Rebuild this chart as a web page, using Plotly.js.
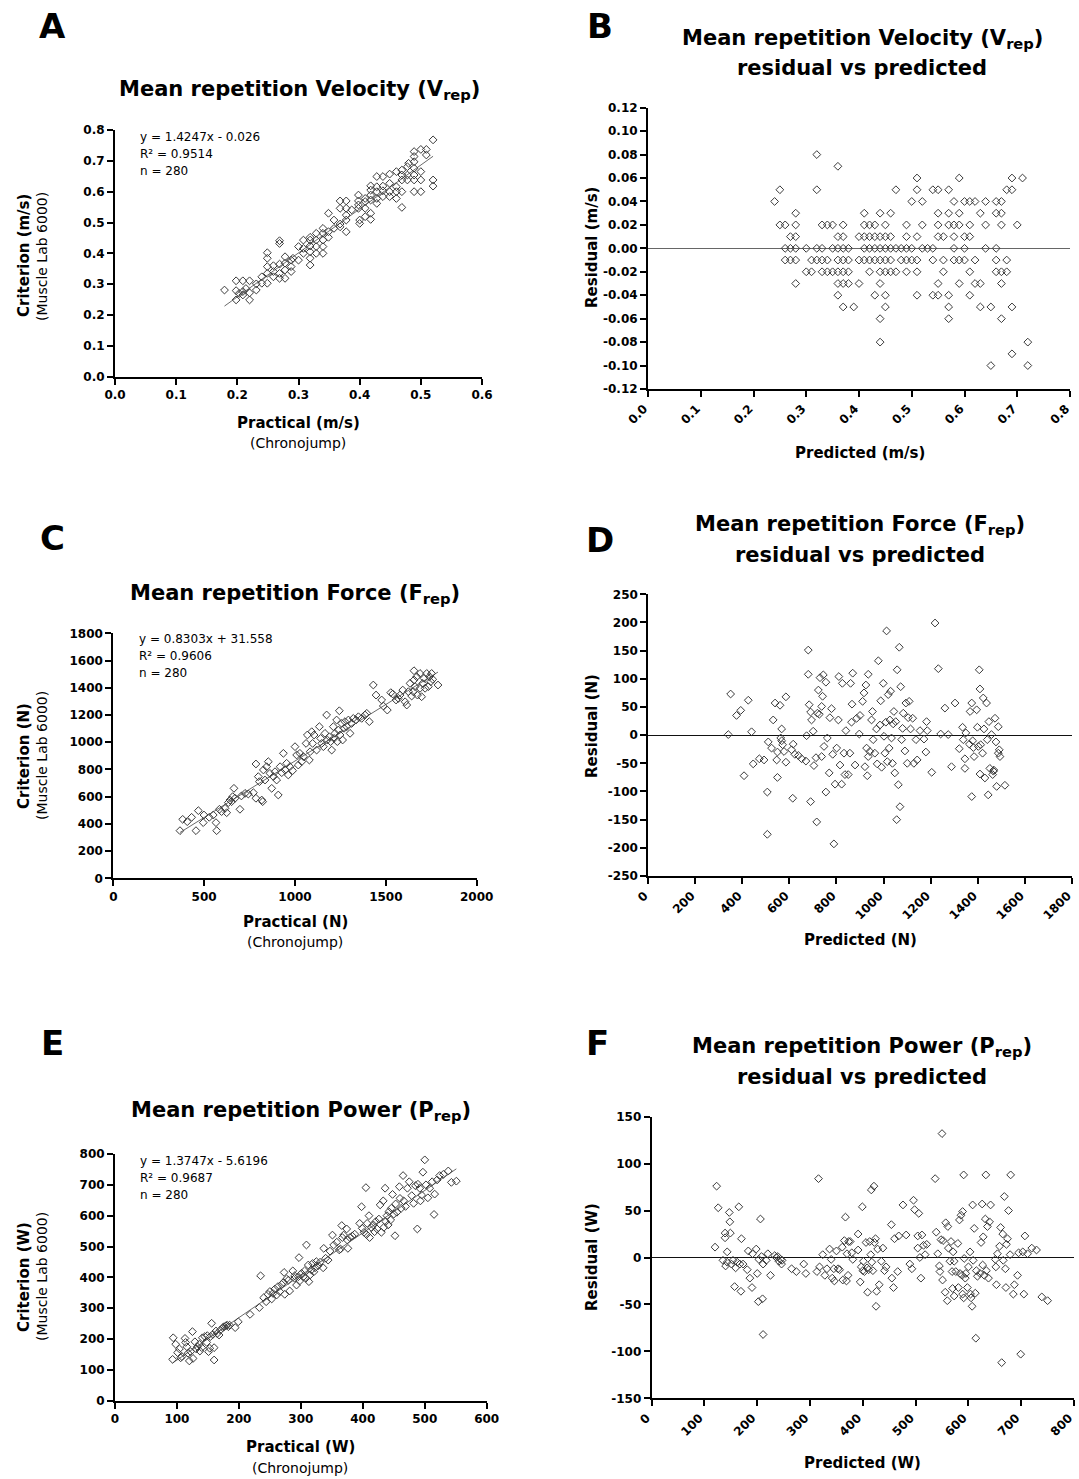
<!DOCTYPE html>
<html>
<head>
<meta charset="utf-8">
<script src="https://cdn.plot.ly/plotly-3.0.1.min.js"></script>
<style>html,body{margin:0;padding:0;background:#fff;}#chart{width:1079px;height:1479px;}</style>
</head>
<body>
<div id="chart"></div>
<script>
// ---------- DATA ----------
// Panel A: practical vs criterion velocity (m/s)
const velocityPairs = [[0.179,0.281],[0.198,0.311],[0.209,0.311],[0.220,0.311],[0.198,0.279],[0.198,0.249],[0.203,0.270],[0.209,0.276],[0.214,0.286],[0.220,0.272],[0.220,0.249],[0.209,0.265],[0.231,0.281],[0.231,0.301],[0.240,0.303],[0.240,0.324],[0.249,0.303],[0.249,0.335],[0.249,0.357],[0.249,0.384],[0.249,0.402],[0.259,0.324],[0.259,0.341],[0.259,0.360],[0.269,0.319],[0.269,0.335],[0.269,0.365],[0.269,0.432],[0.269,0.441],[0.278,0.319],[0.278,0.346],[0.278,0.368],[0.278,0.389],[0.288,0.341],[0.288,0.357],[0.288,0.378],[0.291,0.384],[0.300,0.378],[0.300,0.422],[0.308,0.400],[0.308,0.416],[0.308,0.443],[0.319,0.362],[0.319,0.384],[0.319,0.405],[0.319,0.424],[0.319,0.443],[0.319,0.452],[0.329,0.400],[0.329,0.422],[0.329,0.443],[0.329,0.465],[0.340,0.400],[0.340,0.422],[0.340,0.443],[0.340,0.465],[0.340,0.481],[0.349,0.452],[0.349,0.470],[0.349,0.530],[0.358,0.481],[0.358,0.508],[0.368,0.486],[0.368,0.495],[0.368,0.546],[0.368,0.570],[0.378,0.470],[0.378,0.508],[0.378,0.524],[0.378,0.546],[0.378,0.570],[0.387,0.541],[0.398,0.546],[0.398,0.557],[0.398,0.570],[0.398,0.589],[0.400,0.508],[0.400,0.497],[0.409,0.519],[0.409,0.546],[0.409,0.568],[0.409,0.578],[0.418,0.510],[0.418,0.530],[0.418,0.573],[0.418,0.589],[0.418,0.605],[0.418,0.619],[0.428,0.562],[0.428,0.578],[0.428,0.600],[0.428,0.616],[0.428,0.649],[0.438,0.584],[0.438,0.603],[0.438,0.618],[0.438,0.649],[0.449,0.584],[0.449,0.600],[0.449,0.627],[0.449,0.657],[0.460,0.578],[0.460,0.600],[0.460,0.616],[0.460,0.665],[0.469,0.549],[0.469,0.600],[0.469,0.638],[0.469,0.654],[0.469,0.670],[0.478,0.638],[0.478,0.654],[0.478,0.681],[0.480,0.692],[0.489,0.600],[0.489,0.638],[0.489,0.654],[0.489,0.676],[0.489,0.697],[0.489,0.714],[0.489,0.730],[0.500,0.600],[0.500,0.638],[0.500,0.665],[0.500,0.737],[0.509,0.737],[0.509,0.719],[0.520,0.768],[0.520,0.638],[0.520,0.618]];
const velocityFit = [1.4247, -0.026];

// Panel B: residual levels (m/s) and the predicted values found on each level
const velResidLevels = [0.08,0.07,0.06,0.05,0.04,0.03,0.02,0.01,0.00,-0.01,-0.02,-0.03,-0.04,-0.05,-0.06,-0.08,-0.09,-0.10];
const velPredByLevel = [
  [0.32],
  [0.36],
  [0.51,0.59,0.69,0.71],
  [0.25,0.32,0.47,0.51,0.54,0.55,0.57,0.68,0.69],
  [0.24,0.50,0.52,0.58,0.60,0.61,0.62,0.64,0.66,0.67],
  [0.28,0.41,0.44,0.46,0.55,0.57,0.59,0.63,0.66,0.67],
  [0.25,0.26,0.28,0.33,0.34,0.35,0.37,0.41,0.42,0.43,0.45,0.49,0.52,0.55,0.57,0.58,0.59,0.61,0.64,0.67,0.70],
  [0.27,0.28,0.36,0.37,0.40,0.41,0.42,0.43,0.44,0.45,0.46,0.49,0.51,0.55,0.56,0.58,0.60,0.61],
  [0.26,0.27,0.28,0.30,0.32,0.33,0.35,0.36,0.37,0.38,0.41,0.42,0.43,0.44,0.45,0.46,0.47,0.48,0.49,0.50,0.52,0.53,0.54,0.58,0.60,0.64,0.66],
  [0.26,0.27,0.28,0.31,0.32,0.33,0.34,0.36,0.37,0.38,0.40,0.41,0.42,0.43,0.44,0.45,0.46,0.48,0.49,0.50,0.51,0.54,0.56,0.58,0.59,0.60,0.62,0.66,0.68],
  [0.30,0.31,0.33,0.34,0.35,0.36,0.37,0.38,0.42,0.44,0.45,0.46,0.47,0.49,0.51,0.56,0.61,0.66,0.67,0.68],
  [0.28,0.36,0.37,0.38,0.40,0.44,0.55,0.59,0.62,0.63,0.67],
  [0.36,0.43,0.45,0.51,0.54,0.55,0.57,0.61],
  [0.37,0.39,0.45,0.57,0.63,0.65,0.69],
  [0.44,0.57,0.67],
  [0.44,0.72],
  [0.69],
  [0.65,0.72]
];

// Panel C: practical vs criterion force (N)
const forcePairs = [[367,350],[382,433],[407,416],[431,448],[455,350],[468,497],[495,409],[499,465],[528,448],[550,465],[565,409],[569,350],[584,507],[596,490],[615,514],[624,482],[633,556],[642,575],[651,563],[657,600],[664,661],[670,588],[697,507],[705,605],[725,624],[743,619],[771,629],[785,588],[785,840],[798,747],[804,710],[817,575],[822,563],[826,796],[835,722],[844,820],[853,857],[862,771],[872,661],[881,747],[890,783],[899,722],[908,612],[918,820],[927,776],[936,918],[945,796],[954,845],[963,759],[972,820],[987,791],[1000,967],[1009,906],[1018,832],[1027,918],[1037,857],[1046,894],[1061,991],[1068,1053],[1079,869],[1083,930],[1092,1077],[1097,991],[1105,1053],[1119,942],[1134,1114],[1141,1028],[1147,991],[1156,967],[1165,1065],[1174,1200],[1178,1016],[1189,1040],[1196,1004],[1202,942],[1211,1114],[1215,1028],[1220,1065],[1229,1163],[1233,1004],[1239,1089],[1244,1231],[1248,1053],[1257,1138],[1262,1016],[1270,1102],[1275,1151],[1285,1114],[1294,1163],[1303,1065],[1312,1138],[1321,1175],[1336,1163],[1349,1187],[1367,1175],[1385,1200],[1395,1212],[1409,1151],[1431,1420],[1446,1346],[1477,1310],[1486,1266],[1508,1236],[1527,1364],[1538,1354],[1556,1310],[1569,1322],[1578,1346],[1593,1383],[1606,1297],[1615,1273],[1624,1371],[1633,1432],[1642,1339],[1651,1371],[1655,1457],[1655,1525],[1661,1408],[1670,1481],[1674,1346],[1688,1505],[1688,1396],[1697,1334],[1703,1432],[1710,1469],[1716,1396],[1725,1505],[1734,1408],[1740,1481],[1747,1444],[1752,1505],[1758,1462],[1787,1420]];
const forceFit = [0.8303, 31.558];

// Panel D: predicted force (N) vs residual (N)
const forceResidPairs = [[340,1],[350,73],[375,35],[393,44],[407,-72],[425,62],[439,6],[446,-51],[472,-42],[492,-44],[506,-176],[506,-101],[510,-12],[524,-23],[531,27],[539,57],[546,-44],[549,-75],[549,-30],[560,53],[563,-5],[567,11],[567,-10],[571,-17],[577,-29],[585,-48],[585,68],[609,-26],[614,-112],[616,-16],[623,-34],[638,-36],[652,-42],[670,-46],[673,-1],[680,151],[680,108],[684,54],[690,41],[690,-118],[694,27],[701,7],[704,-54],[713,-40],[716,-154],[719,39],[723,80],[727,37],[730,102],[737,51],[737,-38],[741,69],[744,107],[747,-20],[755,94],[755,-101],[761,-5],[769,-67],[772,31],[779,47],[784,-34],[789,-193],[794,-87],[801,-23],[808,27],[810,104],[815,-53],[822,-87],[825,92],[832,-32],[836,-70],[840,8],[850,-70],[857,-32],[860,92],[864,23],[866,55],[869,110],[879,-53],[886,30],[897,2],[900,35],[911,60],[917,75],[921,-56],[925,89],[928,-23],[931,-72],[935,-38],[935,108],[942,-29],[949,27],[953,42],[956,-8],[963,-32],[970,11],[973,-51],[978,132],[985,18],[988,61],[992,-57],[999,92],[1002,-2],[1006,-32],[1010,23],[1013,185],[1016,-47],[1020,72],[1024,-23],[1027,27],[1030,78],[1034,-5],[1038,-50],[1041,20],[1044,42],[1048,-67],[1052,24],[1056,-150],[1058,116],[1063,-88],[1067,156],[1070,-127],[1073,86],[1077,-8],[1081,12],[1084,39],[1091,-28],[1095,57],[1101,-50],[1105,31],[1109,60],[1115,11],[1124,30],[1129,-50],[1138,-8],[1143,-44],[1155,8],[1172,-7],[1180,-30],[1183,24],[1186,8],[1205,-66],[1219,199],[1233,118],[1243,2],[1261,48],[1275,1],[1289,-56],[1304,57],[1322,-24],[1336,14],[1339,-8],[1346,-42],[1346,-59],[1350,4],[1365,-16],[1368,42],[1375,57],[1375,-109],[1379,-10],[1382,-22],[1385,-38],[1396,45],[1399,14],[1403,-20],[1407,116],[1410,82],[1410,-69],[1413,-17],[1421,-32],[1424,66],[1427,11],[1431,-76],[1438,57],[1441,-8],[1445,-106],[1448,24],[1452,-59],[1459,1],[1464,-70],[1467,-64],[1469,-62],[1474,30],[1478,-12],[1481,-91],[1488,15],[1488,-32],[1492,-26],[1495,-38],[1516,-89]];

// Panel E: practical vs criterion power (W)
const powerPairs = [[93,134],[94,204],[98,183],[101,156],[104,168],[106,139],[108,143],[113,202],[114,189],[116,175],[118,154],[120,129],[122,159],[125,224],[126,137],[129,191],[131,168],[133,175],[136,183],[137,161],[140,172],[141,204],[145,208],[148,189],[149,211],[151,159],[153,170],[154,208],[156,251],[158,215],[160,132],[160,172],[163,226],[165,218],[168,213],[170,229],[174,237],[176,240],[179,243],[181,245],[183,240],[185,245],[194,237],[199,256],[218,280],[233,302],[235,405],[240,334],[244,321],[247,345],[250,354],[253,330],[255,348],[258,362],[261,343],[263,370],[266,354],[269,377],[272,384],[273,416],[274,345],[277,395],[280,391],[282,356],[287,421],[290,405],[290,397],[293,375],[296,402],[297,464],[298,388],[301,413],[304,402],[306,421],[308,397],[309,505],[312,440],[313,386],[315,408],[317,424],[319,445],[321,418],[323,431],[325,451],[328,438],[331,449],[336,431],[337,494],[340,462],[344,456],[347,485],[351,537],[353,505],[358,514],[362,489],[364,492],[366,568],[367,529],[369,537],[374,557],[375,521],[376,494],[379,529],[383,534],[387,540],[395,575],[398,629],[399,559],[402,546],[405,691],[406,539],[407,575],[410,600],[411,529],[414,561],[417,570],[419,548],[421,581],[423,557],[426,589],[428,635],[430,546],[433,648],[434,562],[436,689],[437,581],[439,600],[441,570],[442,613],[445,586],[446,624],[448,669],[450,605],[452,535],[453,638],[455,611],[459,694],[460,656],[462,624],[465,730],[466,648],[469,630],[472,689],[475,710],[479,665],[482,640],[485,697],[488,557],[489,702],[492,689],[493,648],[495,667],[497,741],[500,781],[502,700],[505,658],[508,689],[512,710],[515,604],[516,670],[520,716],[524,730],[530,734],[538,745],[543,708],[551,712]];
const powerFit = [1.3747, -5.6196];

// Panel F: predicted power (W) vs residual (W)
const powerResidPairs = [[120,11],[123,76],[126,53],[135,-3],[139,21],[139,26],[140,-9],[143,6],[143,-5],[147,48],[148,38],[149,26],[151,-7],[154,-3],[157,-31],[159,-11],[162,-5],[165,54],[167,-7],[169,-36],[170,20],[173,-7],[181,-13],[183,7],[186,-22],[190,-32],[191,4],[198,9],[200,-17],[202,-47],[203,-2],[206,41],[208,1],[210,-44],[211,-82],[211,-7],[217,-3],[220,4],[225,-19],[233,2],[236,0],[239,1],[241,-4],[244,-2],[246,-7],[247,-3],[265,-12],[274,-15],[288,-7],[292,-17],[313,-15],[316,84],[318,-10],[324,3],[328,-19],[332,-12],[337,9],[340,-2],[342,-22],[345,-12],[346,-25],[350,7],[353,-12],[356,-13],[361,11],[362,-24],[365,18],[367,43],[369,-25],[370,4],[372,-19],[373,17],[376,17],[379,5],[381,-2],[391,25],[391,8],[395,-26],[397,-10],[399,54],[400,-14],[401,-4],[403,-15],[406,16],[408,-11],[409,-37],[411,-13],[413,17],[415,3],[416,72],[417,-5],[419,-14],[421,76],[422,16],[424,20],[425,-52],[426,-36],[428,9],[431,-29],[435,-4],[438,10],[441,-14],[444,-10],[454,35],[455,-22],[458,-32],[460,20],[466,-15],[468,23],[476,56],[482,24],[489,-7],[493,-12],[496,61],[498,51],[504,10],[504,23],[506,47],[508,0],[510,-22],[512,24],[515,13],[518,3],[521,14],[537,84],[539,27],[542,4],[545,-9],[546,-15],[548,19],[550,132],[551,-24],[552,18],[556,-37],[557,37],[560,-46],[561,33],[562,10],[565,-4],[567,17],[569,-15],[570,-33],[571,6],[573,-4],[573,-41],[576,-15],[580,15],[581,-32],[583,40],[584,-17],[586,45],[588,-19],[589,49],[589,-39],[591,88],[591,-43],[592,-1],[594,-22],[595,-17],[598,-32],[600,-10],[603,6],[604,-39],[605,-43],[607,-52],[608,56],[609,-3],[611,31],[613,-38],[614,-86],[615,-14],[617,-20],[622,-17],[624,16],[626,57],[627,-8],[628,22],[630,-19],[632,41],[633,88],[634,-14],[636,33],[638,-22],[640,38],[642,56],[651,-2],[652,-10],[653,-29],[655,4],[659,12],[661,32],[663,-112],[665,25],[666,-3],[668,65],[670,-12],[671,-32],[672,14],[674,20],[676,50],[679,3],[680,88],[685,-39],[687,-29],[693,-19],[695,5],[699,-103],[703,6],[705,-39],[707,23],[712,4],[720,10],[729,8],[739,-42],[750,-46]];

// Tick values / labels (hyphen minus as in the original)
const velResidTicks = [0.12,0.10,0.08,0.06,0.04,0.02,0.00,-0.02,-0.04,-0.06,-0.08,-0.10,-0.12];
const velResidTickText = ['0.12','0.10','0.08','0.06','0.04','0.02','0.00','-0.02','-0.04','-0.06','-0.08','-0.10','-0.12'];
const forceResidTicks = [250,200,150,100,50,0,-50,-100,-150,-200,-250];
const forceResidTickText = ['250','200','150','100','50','0','-50','-100','-150','-200','-250'];
const powerResidTicks = [150,100,50,0,-50,-100,-150];
const powerResidTickText = ['150','100','50','0','-50','-100','-150'];
const powerPredTicks = [0,100,200,300,400,500,600,700,800];
const powerPredTickText = ['0','100','200','300','400','500','600','700','800'];

// ---------- BUILD ----------
const W = 1079, H = 1479;
const FONT = 'DejaVu Sans';
const px = v => v / W;
const py = v => 1 - v / H;

const velResidX = [], velResidY = [];
velResidLevels.forEach((lv, i) => velPredByLevel[i].forEach(p => { velResidX.push(p); velResidY.push(lv); }));

const mk = {symbol: 'diamond-open', size: 6, color: '#3a3a3a', line: {width: 1, color: '#3a3a3a'}};
function scatter(xs, ys, ax) {
  return {type: 'scatter', mode: 'markers', x: xs, y: ys, xaxis: 'x' + ax, yaxis: 'y' + ax,
          marker: mk, hoverinfo: 'skip', cliponaxis: false};
}
function fitLine(pairs, fit, ax) {
  const xs = pairs.map(p => p[0]);
  const x0 = Math.min(...xs), x1 = Math.max(...xs);
  return {type: 'scatter', mode: 'lines', x: [x0, x1], y: [fit[0] * x0 + fit[1], fit[0] * x1 + fit[1]],
          xaxis: 'x' + ax, yaxis: 'y' + ax, line: {color: '#444', width: 0.8}, hoverinfo: 'skip'};
}

const data = [
  scatter(velocityPairs.map(p => p[0]), velocityPairs.map(p => p[1]), ''),
  fitLine(velocityPairs, velocityFit, ''),
  scatter(velResidX, velResidY, '2'),
  scatter(forcePairs.map(p => p[0]), forcePairs.map(p => p[1]), '3'),
  fitLine(forcePairs, forceFit, '3'),
  scatter(forceResidPairs.map(p => p[0]), forceResidPairs.map(p => p[1]), '4'),
  scatter(powerPairs.map(p => p[0]), powerPairs.map(p => p[1]), '5'),
  fitLine(powerPairs, powerFit, '5'),
  scatter(powerResidPairs.map(p => p[0]), powerResidPairs.map(p => p[1]), '6')
];

const tickFont = {family: FONT, size: 12, color: '#000', weight: 'bold'};
function axis(extra) {
  return Object.assign({showline: true, linewidth: 2, linecolor: '#000', ticks: 'outside', ticklen: 6,
    tickwidth: 2, tickcolor: '#000', showgrid: false, zeroline: false, tickfont: tickFont,
    fixedrange: true, mirror: false, ticklabeloverflow: 'allow'}, extra);
}
function dom(a, b) { return [a / W, b / W]; }
function ydom(top, bottom) { return [1 - bottom / H, 1 - top / H]; }

const layout = {
  width: W, height: H, margin: {l: 0, r: 0, t: 0, b: 0},
  paper_bgcolor: '#fff', plot_bgcolor: 'rgba(0,0,0,0)', showlegend: false,
  font: {family: FONT, color: '#000'},
  xaxis:  axis({domain: dom(115, 482), range: [0, 0.6], dtick: 0.1, tick0: 0, tickformat: '.1f', anchor: 'y'}),
  yaxis:  axis({domain: ydom(130, 376.7), range: [0, 0.8], dtick: 0.1, tick0: 0, tickformat: '.1f', anchor: 'x'}),
  xaxis2: axis({domain: dom(648, 1070), range: [0, 0.8], dtick: 0.1, tick0: 0, tickformat: '.1f', tickangle: -45, ticklabelshift: -4, anchor: 'y2'}),
  yaxis2: axis({domain: ydom(107.7, 389), range: [-0.12, 0.12], tickvals: velResidTicks, ticktext: velResidTickText, anchor: 'x2',
                zeroline: true, zerolinecolor: '#666', zerolinewidth: 1}),
  xaxis3: axis({domain: dom(113.3, 476.7), range: [0, 2000], dtick: 500, tick0: 0, anchor: 'y3'}),
  yaxis3: axis({domain: ydom(633.3, 878.3), range: [0, 1800], dtick: 200, tick0: 0, anchor: 'x3'}),
  xaxis4: axis({domain: dom(648.3, 1071.7), range: [0, 1800], dtick: 200, tick0: 0, tickangle: -45, ticklabelshift: -4, anchor: 'y4'}),
  yaxis4: axis({domain: ydom(594.3, 876), range: [-250, 250], tickvals: forceResidTicks, ticktext: forceResidTickText, anchor: 'x4',
                zeroline: true, zerolinecolor: '#111', zerolinewidth: 1}),
  xaxis5: axis({domain: dom(115, 486.7), range: [0, 600], dtick: 100, tick0: 0, anchor: 'y5'}),
  yaxis5: axis({domain: ydom(1154, 1400.7), range: [0, 800], dtick: 100, tick0: 0, anchor: 'x5'}),
  xaxis6: axis({domain: dom(651.7, 1074), range: [0, 800], tickvals: powerPredTicks, ticktext: powerPredTickText, tickangle: -45, ticklabelshift: -5, anchor: 'y6'}),
  yaxis6: axis({domain: ydom(1116.7, 1398.3), range: [-150, 150], tickvals: powerResidTicks, ticktext: powerResidTickText, anchor: 'x6',
                zeroline: true, zerolinecolor: '#111', zerolinewidth: 1}),
  annotations: []
};

function txt(text, x, y, size, bold, opts) {
  return Object.assign({text: text, x: px(x), y: py(y), xref: 'paper', yref: 'paper', showarrow: false,
    font: {family: FONT, size: size, color: '#000', weight: bold ? 'bold' : 'normal'},
    xanchor: 'center', yanchor: 'middle'}, opts || {});
}
const A = layout.annotations;
// panel letters
A.push(txt('A', 52, 26, 34, true), txt('B', 600, 26, 34, true), txt('C', 52, 538, 34, true),
       txt('D', 600, 540, 34, true), txt('E', 52, 1043, 34, true), txt('F', 597, 1043, 34, true));
// titles
A.push(txt('Mean repetition Velocity (V<sub>rep</sub>)', 299, 90, 21, true));
A.push(txt('Mean repetition Velocity (V<sub>rep</sub>)', 862, 39, 21, true));
A.push(txt('residual vs predicted', 862, 68, 21, true));
A.push(txt('Mean repetition Force (F<sub>rep</sub>)', 295, 594, 21, true));
A.push(txt('Mean repetition Force (F<sub>rep</sub>)', 860, 525, 21, true));
A.push(txt('residual vs predicted', 860, 555, 21, true));
A.push(txt('Mean repetition Power (P<sub>rep</sub>)', 301, 1111, 21, true));
A.push(txt('Mean repetition Power (P<sub>rep</sub>)', 862, 1047, 21, true));
A.push(txt('residual vs predicted', 862, 1077, 21, true));
// regression text
const eqs = [['y = 1.4247x - 0.026', 'R² = 0.9514', 138, 137],
             ['y = 0.8303x + 31.558', 'R² = 0.9606', 137, 639],
             ['y = 1.3747x - 5.6196', 'R² = 0.9687', 138, 1161]];
eqs.forEach(e => {
  A.push(txt(e[0], e[2], e[3], 12, false, {xanchor: 'left'}));
  A.push(txt(e[1], e[2], e[3] + 17, 12, false, {xanchor: 'left'}));
  A.push(txt('n = 280', e[2], e[3] + 34, 12, false, {xanchor: 'left'}));
});
// x axis titles
A.push(txt('Practical (m/s)', 298, 423, 15, true), txt('(Chronojump)', 298, 443, 14, false));
A.push(txt('Practical (N)', 295, 922, 15, true), txt('(Chronojump)', 295, 942, 14, false));
A.push(txt('Practical (W)', 300, 1447, 15, true), txt('(Chronojump)', 300, 1468, 14, false));
A.push(txt('Predicted (m/s)', 860, 453, 15, true));
A.push(txt('Predicted (N)', 860, 940, 15, true));
A.push(txt('Predicted (W)', 862, 1463, 15, true));
// y axis titles
A.push(txt('Criterion (m/s)', 24, 256, 15, true, {textangle: -90}), txt('(Muscle Lab 6000)', 42, 257, 14, false, {textangle: -90}));
A.push(txt('Criterion (N)', 24, 756, 15, true, {textangle: -90}), txt('(Muscle Lab 6000)', 42, 756, 14, false, {textangle: -90}));
A.push(txt('Criterion (W)', 24, 1277, 15, true, {textangle: -90}), txt('(Muscle Lab 6000)', 42, 1277, 14, false, {textangle: -90}));
A.push(txt('Residual (m/s)', 592, 248, 15, true, {textangle: -90}));
A.push(txt('Residual (N)', 592, 726, 15, true, {textangle: -90}));
A.push(txt('Residual (W)', 592, 1257, 15, true, {textangle: -90}));

Plotly.newPlot('chart', data, layout, {staticPlot: true, displayModeBar: false});
</script>
</body>
</html>
